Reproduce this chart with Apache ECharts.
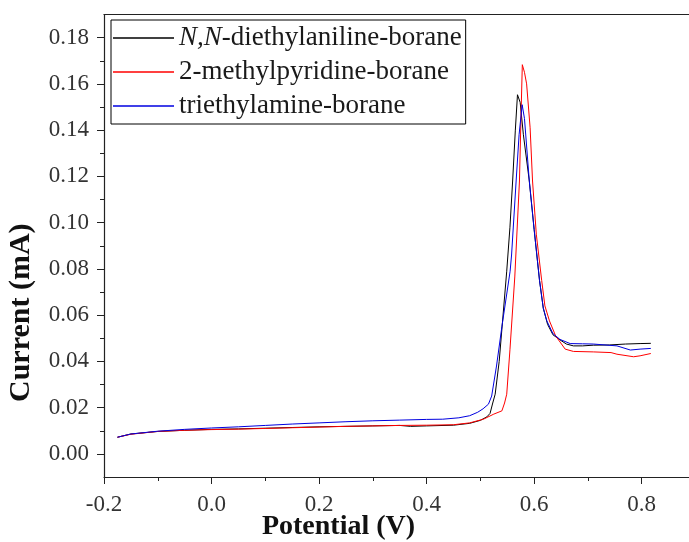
<!DOCTYPE html>
<html>
<head>
<meta charset="utf-8">
<title>Current vs Potential</title>
<script src="https://cdn.jsdelivr.net/npm/echarts@6/dist/echarts.min.js"></script>
<style>
  html, body { margin: 0; padding: 0; background: #fff; }
  #chart { width: 689px; height: 542px; }
</style>
</head>
<body>
<div id="chart"></div>
<script>
// --- data (potential in V, current in mA) ---
const seriesNames = ['N,N-diethylaniline-borane', '2-methylpyridine-borane', 'triethylamine-borane'];
const seriesColors = ['#000000', '#ff0000', '#0000e0'];

const blackX = [-0.175, -0.15, -0.1, -0.05, 0, 0.05, 0.1, 0.15, 0.2, 0.25, 0.3, 0.35, 0.37, 0.4, 0.45, 0.48, 0.5, 0.512, 0.518, 0.523, 0.5275, 0.535, 0.549, 0.555, 0.56, 0.565, 0.569, 0.574, 0.58, 0.591, 0.6, 0.61, 0.617, 0.625, 0.635, 0.648, 0.66, 0.673, 0.69, 0.71, 0.74, 0.77, 0.797, 0.817];
const blackY = [0.0072, 0.0086, 0.0097, 0.0102, 0.0106, 0.0108, 0.0111, 0.0114, 0.0117, 0.0119, 0.0121, 0.0123, 0.0119, 0.0121, 0.0124, 0.0132, 0.0145, 0.016, 0.0175, 0.022, 0.0258, 0.04, 0.079, 0.098, 0.118, 0.14, 0.1553, 0.152, 0.138, 0.118, 0.097, 0.075, 0.063, 0.056, 0.0515, 0.0493, 0.0475, 0.0467, 0.0467, 0.047, 0.0471, 0.0475, 0.0477, 0.0478];

const redX = [-0.175, -0.15, -0.1, -0.05, 0, 0.05, 0.1, 0.15, 0.2, 0.25, 0.3, 0.35, 0.4, 0.45, 0.48, 0.5057, 0.525, 0.54, 0.545, 0.549, 0.555, 0.564, 0.5727, 0.576, 0.578, 0.582, 0.586, 0.5925, 0.597, 0.604, 0.614, 0.62, 0.6285, 0.64, 0.6577, 0.673, 0.71, 0.743, 0.754, 0.785, 0.797, 0.817];
const redY = [0.0072, 0.0085, 0.0097, 0.0102, 0.0105, 0.0107, 0.011, 0.0113, 0.0116, 0.0119, 0.0121, 0.0123, 0.0124, 0.0126, 0.0134, 0.015, 0.0172, 0.0186, 0.022, 0.0258, 0.045, 0.0765, 0.118, 0.15, 0.1683, 0.165, 0.16, 0.141, 0.118, 0.095, 0.075, 0.064, 0.0575, 0.051, 0.0453, 0.0443, 0.0441, 0.0438, 0.0431, 0.042, 0.0424, 0.0434];

const blueX = [-0.175, -0.15, -0.1, -0.05, 0, 0.05, 0.1, 0.15, 0.2, 0.25, 0.3, 0.35, 0.4, 0.43, 0.46, 0.48, 0.495, 0.505, 0.515, 0.521, 0.53, 0.54, 0.5553, 0.558, 0.5665, 0.572, 0.5777, 0.582, 0.591, 0.6, 0.61, 0.617, 0.6236, 0.635, 0.648, 0.667, 0.69, 0.71, 0.754, 0.779, 0.797, 0.817];
const blueY = [0.0072, 0.0086, 0.0098, 0.0106, 0.0112, 0.0117, 0.0123, 0.0129, 0.0134, 0.0139, 0.0143, 0.0146, 0.0149, 0.015, 0.0156, 0.0165, 0.018, 0.0195, 0.0215, 0.025, 0.038, 0.055, 0.079, 0.086, 0.118, 0.138, 0.151, 0.145, 0.118, 0.097, 0.075, 0.063, 0.0575, 0.052, 0.0495, 0.0477, 0.0476, 0.0475, 0.0467, 0.0449, 0.0453, 0.0456];

const xMajorTicks = [-0.2, 0.0, 0.2, 0.4, 0.6, 0.8];
const xMinorTicks = [-0.1, 0.1, 0.3, 0.5, 0.7];
const yMajorTicks = [0, 0.02, 0.04, 0.06, 0.08, 0.1, 0.12, 0.14, 0.16, 0.18];
const yMinorTicks = [0.01, 0.03, 0.05, 0.07, 0.09, 0.11, 0.13, 0.15, 0.17];

const serif = '"Liberation Serif", "Times New Roman", serif';
const axisColor = '#222';

function pairs(xs, ys) {
  return xs.map((x, i) => [x, ys[i]]);
}

// extra axes that only carry a set of tick marks (no line, no labels)
function tickAxis(base, position, values, len) {
  return Object.assign({}, base, {
    position: position,
    axisLine: { show: false, onZero: false },
    axisTick: { show: true, customValues: values, length: len, lineStyle: { color: axisColor, width: 1 } },
    axisLabel: { show: false }
  });
}

const chart = echarts.init(document.getElementById('chart'), null, { renderer: 'canvas' });

const xBase = { type: 'value', min: -0.2, max: 0.888, splitLine: { show: false } };
const yBase = { type: 'value', min: -0.01, max: 0.19, splitLine: { show: false } };

chart.setOption({
  animation: false,
  backgroundColor: '#fff',
  grid: { left: 104, top: 14.5, right: 0, bottom: 65, containLabel: false, outerBoundsMode: 'none' },
  legend: {
    orient: 'vertical',
    left: 111,
    top: 20,
    icon: 'rect',
    itemWidth: 61,
    itemHeight: 1.5,
    itemGap: 4,
    padding: [3, 4, 3, 2],
    borderColor: '#000',
    borderWidth: 1,
    data: seriesNames,
    formatter: name => name.replace('N,N', '{it|N,N}'),
    textStyle: {
      fontFamily: serif, fontSize: 27, color: '#1a1a1a', lineHeight: 30,
      rich: { it: { fontFamily: serif, fontSize: 27, fontStyle: 'italic', color: '#1a1a1a', lineHeight: 30 } }
    }
  },
  xAxis: [
    Object.assign({}, xBase, {
      position: 'bottom',
      axisLine: { show: true, onZero: false, lineStyle: { color: axisColor, width: 1.2 } },
      axisTick: { show: false },
      axisLabel: {
        customValues: xMajorTicks, margin: 16,
        formatter: v => v.toFixed(1),
        fontFamily: serif, fontSize: 23, color: '#333'
      },
      name: 'Potential (V)',
      nameLocation: 'middle',
      nameGap: 36,
      nameMoveOverlap: false,
      nameTextStyle: { fontFamily: serif, fontSize: 28, fontWeight: 'bold', color: '#111', padding: [0, 116, 0, 0] }
    }),
    tickAxis(xBase, 'bottom', xMajorTicks, 7),
    tickAxis(xBase, 'bottom', xMinorTicks, 4),
    Object.assign({}, xBase, {
      position: 'top',
      axisLine: { show: true, onZero: false, lineStyle: { color: axisColor, width: 1.2 } },
      axisTick: { show: false },
      axisLabel: { show: false }
    })
  ],
  yAxis: [
    Object.assign({}, yBase, {
      position: 'left',
      axisLine: { show: true, onZero: false, lineStyle: { color: axisColor, width: 1.2 } },
      axisTick: { show: false },
      axisLabel: {
        customValues: yMajorTicks, margin: 15,
        formatter: v => v.toFixed(2),
        fontFamily: serif, fontSize: 23, color: '#333'
      },
      name: 'Current (mA)',
      nameLocation: 'middle',
      nameRotate: 90,
      nameGap: 68,
      nameMoveOverlap: false,
      nameTextStyle: { fontFamily: serif, fontSize: 30, fontWeight: 'bold', color: '#111', padding: [0, 134, 0, 0] }
    }),
    tickAxis(yBase, 'left', yMajorTicks, 7),
    tickAxis(yBase, 'left', yMinorTicks, 4)
  ],
  series: [
    { data: pairs(blackX, blackY) },
    { data: pairs(redX, redY) },
    { data: pairs(blueX, blueY) }
  ].map((s, i) => ({
    name: seriesNames[i],
    type: 'line',
    xAxisIndex: 0,
    yAxisIndex: 0,
    data: s.data,
    symbol: 'none',
    lineStyle: { color: seriesColors[i], width: 1 },
    itemStyle: { color: seriesColors[i] }
  }))
});
</script>
</body>
</html>
